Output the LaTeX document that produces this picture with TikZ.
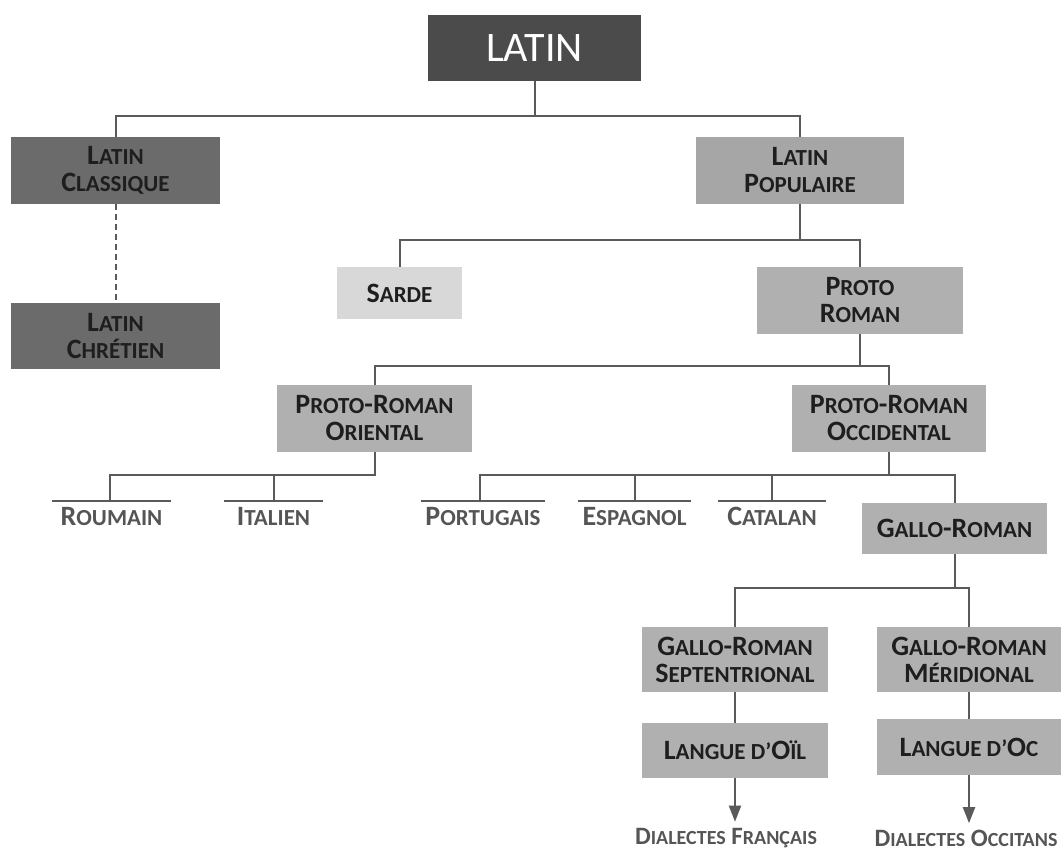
\documentclass[tikz,border=0pt]{standalone}
\usepackage{fontspec}
\setmainfont{Carlito}
\usetikzlibrary{arrows.meta}
\definecolor{rootgrey}{HTML}{4B4B4B}
\definecolor{classicgrey}{HTML}{6B6B6B}
\definecolor{popgrey}{HTML}{A6A6A6}
\definecolor{sardegrey}{HTML}{D8D8D8}
\definecolor{romangrey}{HTML}{B0B0B0}
\definecolor{textdark}{HTML}{1E1E1E}
\definecolor{leafgrey}{HTML}{555555}
\definecolor{linegrey}{HTML}{5A5A5A}
\newcommand{\sm}[1]{{\fontsize{23}{27}\selectfont #1}}
\newcommand{\smd}[1]{{\fontsize{20}{24}\selectfont #1}}
\tikzset{
    base/.style={rectangle, align=center, inner sep=2pt,
        font=\fontsize{28}{27}\selectfont\bfseries, text=textdark},
    root/.style={base, fill=rootgrey, text=white,
        font=\fontsize{42}{44}\selectfont},
    classic/.style={base, fill=classicgrey},
    popular/.style={base, fill=popgrey},
    sardebox/.style={base, fill=sardegrey},
    roman/.style={base, fill=romangrey},
    leaf/.style={anchor=north, inner xsep=0pt, inner ysep=6pt,
        font=\fontsize{28}{27}\selectfont\bfseries, text=leafgrey},
    dialect/.style={font=\fontsize{25}{27}\selectfont\bfseries, text=leafgrey},
    link/.style={line width=2pt, color=linegrey},
    linkarr/.style={link, -{Triangle[length=16pt, width=12pt]}},
}

\begin{document}
\begin{tikzpicture}[x=1pt, y=-1pt]
\useasboundingbox (0,0) rectangle (1061,853);

% ---------------- top levels ----------------
\node[root, minimum width=213pt, minimum height=66pt] (latin) at (534.5,48) {LATIN};

\node[classic, minimum width=209pt, minimum height=67pt] (classique) at (115.5,170.5)
    {L\sm{ATIN}\\C\sm{LASSIQUE}};
\node[classic, minimum width=209pt, minimum height=66pt] (chretien) at (115.5,336)
    {L\sm{ATIN}\\C\sm{HRÉTIEN}};
\node[popular, minimum width=208pt, minimum height=67pt] (populaire) at (800,170.5)
    {L\sm{ATIN}\\P\sm{OPULAIRE}};

\node[sardebox, minimum width=125pt, minimum height=52pt] (sarde) at (399.5,293)
    {S\sm{ARDE}};
\node[roman, minimum width=206pt, minimum height=67pt] (proto) at (860,300.5)
    {P\sm{ROTO}\\R\sm{OMAN}};

\node[roman, minimum width=195pt, minimum height=67pt] (oriental) at (374.5,418.5)
    {P\sm{ROTO}-R\sm{OMAN}\\O\sm{RIENTAL}};
\node[roman, minimum width=194pt, minimum height=67pt] (occidental) at (889,418.5)
    {P\sm{ROTO}-R\sm{OMAN}\\O\sm{CCIDENTAL}};

% ---------------- leaves ----------------
\node[leaf, minimum width=119pt] (roumain)   at (111.5,501) {R\sm{OUMAIN}};
\node[leaf, minimum width=99pt]  (italien)   at (273.5,501) {I\sm{TALIEN}};
\node[leaf, minimum width=124pt] (portugais) at (483,501)   {P\sm{ORTUGAIS}};
\node[leaf, minimum width=113pt] (espagnol)  at (634.5,501) {E\sm{SPAGNOL}};
\node[leaf, minimum width=108pt] (catalan)   at (772,501)   {C\sm{ATALAN}};

\foreach \n in {roumain, italien, portugais, espagnol, catalan}
    \draw[link] (\n.north west) -- (\n.north east);

\node[roman, minimum width=185pt, minimum height=51pt] (gallo) at (954.5,528.5)
    {G\sm{ALLO}-R\sm{OMAN}};

\node[roman, minimum width=186pt, minimum height=65pt] (sept) at (735,659.5)
    {G\sm{ALLO}-R\sm{OMAN}\\S\sm{EPTENTRIONAL}};
\node[roman, minimum width=184pt, minimum height=65pt] (merid) at (969,659.5)
    {G\sm{ALLO}-R\sm{OMAN}\\M\sm{ÉRIDIONAL}};

\node[roman, minimum width=186pt, minimum height=55pt] (oil) at (735,750.5)
    {L\sm{ANGUE D’}O\sm{ÏL}};
\node[roman, minimum width=184pt, minimum height=56pt] (oc) at (969,747)
    {L\sm{ANGUE D’}O\sm{C}};

\node[dialect] (francais) at (726,838) {D\smd{IALECTES} F\smd{RANÇAIS}};
\node[dialect] (occitans) at (966,838) {D\smd{IALECTES} O\smd{CCITANS}};

% ---------------- connectors ----------------
\coordinate (bus1) at (0,116);
\coordinate (bus2) at (0,240);
\coordinate (bus3) at (0,366);
\coordinate (bus4) at (0,475);
\coordinate (bus5) at (0,588);

\draw[link] (latin.south) -- (latin.south |- bus1);
\draw[link] (classique.north) |- (bus1 -| populaire.north) -- (populaire.north);
\draw[link, dash pattern=on 6pt off 4pt] (classique.south) -- (chretien.north);

\draw[link] (populaire.south) -- (populaire.south |- bus2);
\draw[link] (sarde.north) |- (bus2 -| proto.north) -- (proto.north);

\draw[link] (proto.south) -- (proto.south |- bus3);
\draw[link] (oriental.north) |- (bus3 -| occidental.north) -- (occidental.north);

\draw[link] (oriental.south) -- (oriental.south |- bus4) -| ([xshift=-1.5pt]roumain.north);
\draw[link] (italien.north) -- (italien.north |- bus4);

\draw[link] (occidental.south) -- (occidental.south |- bus4);
\draw[link] ([xshift=-3pt]portugais.north) |- (bus4 -| gallo.north) -- (gallo.north);
\draw[link] (espagnol.north) -- (espagnol.north |- bus4);
\draw[link] (catalan.north) -- (catalan.north |- bus4);

\draw[link] (gallo.south) -- (gallo.south |- bus5);
\draw[link] (sept.north) |- (bus5 -| merid.north) -- (merid.north);

\draw[link] (sept.south) -- (oil.north);
\draw[link] (merid.south) -- (oc.north);

\draw[linkarr, shorten >=3pt] (oil.south) -- (oil.south |- francais.north);
\draw[linkarr, shorten >=3pt] (oc.south) -- (oc.south |- occitans.north);

\end{tikzpicture}
\end{document}
